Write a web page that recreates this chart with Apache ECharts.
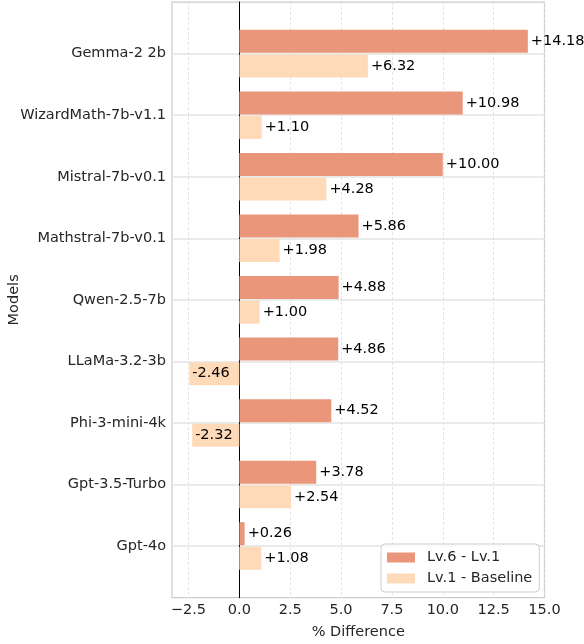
<!DOCTYPE html>
<html>
<head>
<meta charset="utf-8">
<script src="https://cdn.jsdelivr.net/npm/echarts@6/dist/echarts.min.js"></script>
<style>
  html, body { margin: 0; padding: 0; background: #fff; }
  #main { width: 584px; height: 644px; }
</style>
</head>
<body>
<div id="main"></div>
<script>
var models = ['Gemma-2 2b', 'WizardMath-7b-v1.1', 'Mistral-7b-v0.1', 'Mathstral-7b-v0.1',
              'Qwen-2.5-7b', 'LLaMa-3.2-3b', 'Phi-3-mini-4k', 'Gpt-3.5-Turbo', 'Gpt-4o'];
var lv6_lv1 = [14.18, 10.98, 10.00, 5.86, 4.88, 4.86, 4.52, 3.78, 0.26];
var lv1_base = [6.32, 1.10, 4.28, 1.98, 1.00, -2.46, -2.32, 2.54, 1.08];
var xTicks = [-2.5, 0, 2.5, 5, 7.5, 10, 12.5, 15];
var rowTicks = [0, 1, 2, 3, 4, 5, 6, 7, 8];

var chart = echarts.init(document.getElementById('main'));
var font = 'DejaVu Sans';
var fs = 14.5;

function fmt(v) {
    return (v > 0 ? '+' : '') + v.toFixed(2);
}

// label position depends on sign
function toData(arr) {
    return arr.map(function (v) {
        if (v < 0) {
            return { value: v, label: { position: 'insideLeft', distance: 3 } };
        }
        return v;
    });
}

var option = {
    animation: false,
    textStyle: { fontFamily: font },
    grid: [
        // outer frame (spines + grid lines)
        { left: 172, right: 39.5, top: 2, bottom: 46.3, show: true, outerBoundsMode: 'none', containLabel: false,
          borderColor: '#cccccc', borderWidth: 1.25, backgroundColor: '#fff' },
        // bars
        { left: 172, right: 39.5, top: 22.9, bottom: 67.2, outerBoundsMode: 'none', containLabel: false }
    ],
    legend: {
        orient: 'vertical',
        left: 381, top: 544,
        padding: [6, 7, 6, 6],
        itemGap: 6,
        itemWidth: 28, itemHeight: 10,
        icon: 'rect',
        backgroundColor: 'rgba(255,255,255,0.8)',
        borderColor: '#cccccc', borderWidth: 1, borderRadius: 4,
        textStyle: { fontFamily: font, fontSize: fs, color: '#262626', padding: [0, 0, 0, 7] },
        data: ['Lv.6 - Lv.1', 'Lv.1 - Baseline']
    },
    xAxis: [
        {
            gridIndex: 0, type: 'value', min: -3.31, max: 15,
            name: '% Difference', nameLocation: 'middle', nameGap: 27, nameMoveOverlap: false,
            nameTextStyle: { fontFamily: font, fontSize: fs, color: '#262626' },
            axisLine: { show: false, onZero: false },
            axisTick: { show: false, customValues: xTicks },
            axisLabel: {
                customValues: xTicks, margin: 5,
                fontFamily: font, fontSize: fs, color: '#262626',
                formatter: function (v) { return (v < 0 ? '\u2212' : '') + Math.abs(v).toFixed(1); }
            },
            splitLine: { show: true, lineStyle: { color: '#dddddd', width: 0.8, type: [3, 2] } }
        },
        {
            gridIndex: 1, type: 'value', min: -3.31, max: 15, show: false,
            splitLine: { show: false }
        }
    ],
    yAxis: [
        {
            gridIndex: 0, type: 'value', inverse: true, min: -0.84, max: 8.84,
            axisLine: { show: true, onZero: true, lineStyle: { color: '#000', width: 1 } },
            axisTick: { show: false, customValues: rowTicks },
            axisLabel: { show: false, customValues: rowTicks },
            splitLine: { show: true, lineStyle: { color: '#e3e3e3', width: 1.5 } }
        },
        {
            gridIndex: 1, type: 'category', inverse: true, data: models,
            name: 'Models', nameLocation: 'middle', nameGap: 150, nameMoveOverlap: false,
            nameTextStyle: { fontFamily: font, fontSize: fs, color: '#262626' },
            axisLine: { show: false },
            axisTick: { show: false },
            axisLabel: { margin: 6, fontFamily: font, fontSize: fs, color: '#262626' },
            splitLine: { show: false }
        }
    ],
    series: [
        {
            name: 'Lv.6 - Lv.1', type: 'bar',
            xAxisIndex: 1, yAxisIndex: 1,
            barWidth: 23, barGap: '7%',
            itemStyle: { color: '#E9967A' },
            label: { show: true, position: 'right', distance: 3, formatter: function (p) { return fmt(p.value); },
                     fontFamily: font, fontSize: fs, color: '#000' },
            data: toData(lv6_lv1)
        },
        {
            name: 'Lv.1 - Baseline', type: 'bar',
            xAxisIndex: 1, yAxisIndex: 1,
            barWidth: 23, barGap: '7%',
            itemStyle: { color: '#FFDAB9' },
            label: { show: true, position: 'right', distance: 3, formatter: function (p) { return fmt(p.value); },
                     fontFamily: font, fontSize: fs, color: '#000' },
            data: toData(lv1_base)
        }
    ]
};

chart.setOption(option);
</script>
</body>
</html>
